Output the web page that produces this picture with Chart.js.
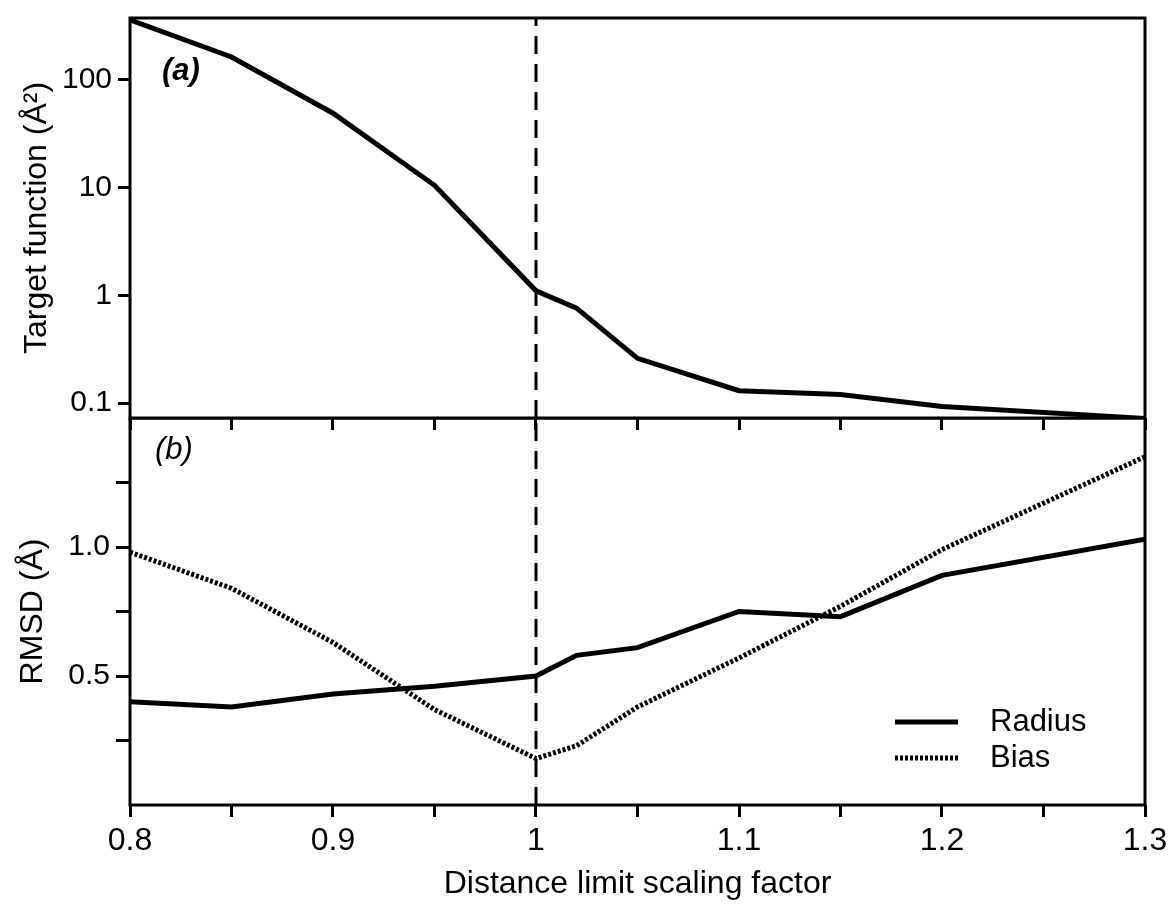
<!DOCTYPE html>
<html>
<head>
<meta charset="utf-8">
<script src="https://cdn.jsdelivr.net/npm/chart.js@4.4.1/dist/chart.umd.min.js"></script>
<style>
  body { margin: 0; background: #fff; }
  #wrap { position: relative; width: 1168px; height: 913px; }
  #topChart { position: absolute; left: 0; top: 0; }
  #bottomChart { position: absolute; left: 0; top: 418px; }
</style>
</head>
<body>
<div id="wrap">
  <canvas id="topChart" width="1168" height="436"></canvas>
  <canvas id="bottomChart" width="1168" height="495"></canvas>
</div>
<script>
// values
const scaleFactor = [0.8, 0.85, 0.9, 0.95, 1.0, 1.02, 1.05, 1.1, 1.15, 1.2, 1.3];
const targetFunction = [360, 163, 49, 10.5, 1.1, 0.76, 0.26, 0.13, 0.12, 0.093, 0.072];
const radiusRmsd = [0.40, 0.38, 0.43, 0.46, 0.50, 0.58, 0.61, 0.75, 0.73, 0.89, 1.03];
const biasRmsd = [0.98, 0.84, 0.63, 0.37, 0.18, 0.23, 0.38, 0.57, 0.77, 0.99, 1.35];
const xTickLabels = ['0.8', '0.9', '1', '1.1', '1.2', '1.3'];
const targetTicks = [0.1, 1, 10, 100];
const rmsdTicks = [0.25, 0.5, 0.75, 1.0, 1.25];
const rmsdTickLabels = { 0.5: '0.5', 1: '1.0' };
const markerX = 1.0;

const FONT = "'Liberation Sans', Arial, sans-serif";
const X_MIN = 0.8, X_MAX = 1.3;
const TOP_MIN = 0.0726, TOP_MAX = 375;
const BOT_MIN = 0, BOT_MAX = 1.5;

const toPoints = (ys) => scaleFactor.map((x, i) => ({ x: x, y: ys[i] }));

function xLabel(v) {
  const k = Math.round((v - X_MIN) * 100);
  if (k % 10 !== 0) return '';
  return xTickLabels[k / 10] || '';
}

// keep the plot boxes where they are, no extra room for edge labels
function noPad(s) {
  s.paddingTop = 0;
  s.paddingBottom = 0;
  s.paddingLeft = 0;
  s.paddingRight = 0;
}

// box round the plot area
const framePlugin = {
  id: 'frame',
  afterDraw(chart) {
    const { ctx, chartArea: a } = chart;
    ctx.save();
    ctx.strokeStyle = '#000';
    ctx.lineWidth = 3;
    ctx.strokeRect(a.left, a.top, a.right - a.left, a.bottom - a.top);
    ctx.restore();
  }
};

// (a) / (b) panel tags
const panelTagPlugin = {
  id: 'panelTag',
  afterDraw(chart, args, opts) {
    const { ctx, chartArea: a } = chart;
    ctx.save();
    ctx.fillStyle = '#000';
    ctx.font = opts.font;
    ctx.textBaseline = 'middle';
    ctx.fillText(opts.text, a.left + opts.dx, a.top + opts.dy);
    ctx.restore();
  }
};

// legend in the lower right of panel (b)
const insideLegend = {
  id: 'insideLegend',
  afterDraw(chart) {
    const { ctx, chartArea: a } = chart;
    const items = chart.data.datasets.filter(d => d.label);
    ctx.save();
    items.forEach((ds, i) => {
      const y = a.bottom - 83 + i * 36;
      ctx.strokeStyle = ds.borderColor;
      ctx.lineWidth = ds.borderWidth;
      ctx.setLineDash(ds.borderDash || []);
      ctx.beginPath();
      ctx.moveTo(a.left + 765, y);
      ctx.lineTo(a.left + 828, y);
      ctx.stroke();
      ctx.setLineDash([]);
      ctx.fillStyle = '#000';
      ctx.font = '31px ' + FONT;
      ctx.textBaseline = 'middle';
      ctx.fillText(ds.label, a.left + 860, y);
    });
    ctx.restore();
  }
};

const xGrid = {
  display: true,
  drawOnChartArea: false,
  drawTicks: true,
  tickLength: 12,
  tickWidth: 3,
  tickColor: '#000'
};

new Chart(document.getElementById('topChart'), {
  type: 'line',
  data: {
    datasets: [
      {
        data: toPoints(targetFunction),
        borderColor: '#000',
        borderWidth: 5,
        pointRadius: 0,
        tension: 0
      },
      {
        data: [{ x: markerX, y: TOP_MIN }, { x: markerX, y: TOP_MAX }],
        borderColor: '#000',
        borderWidth: 3,
        borderDash: [18, 10],
        pointRadius: 0
      }
    ]
  },
  options: {
    responsive: false,
    animation: false,
    layout: { padding: { top: 18, right: 23, left: 0, bottom: 0 } },
    plugins: {
      legend: { display: false },
      tooltip: { enabled: false },
      panelTag: { text: '(a)', font: 'italic bold 31px ' + FONT, dx: 32, dy: 53 }
    },
    scales: {
      x: {
        type: 'linear',
        min: X_MIN,
        max: X_MAX,
        ticks: { stepSize: 0.05, callback: () => '' },
        grid: xGrid,
        border: { display: false },
        afterFit: (s) => { s.height = 18; noPad(s); }
      },
      y: {
        type: 'logarithmic',
        min: TOP_MIN,
        max: TOP_MAX,
        afterBuildTicks: (s) => { s.ticks = targetTicks.map(v => ({ value: v })); },
        ticks: {
          color: '#000',
          font: { family: FONT, size: 30 },
          padding: 6,
          callback: (v) => String(v)
        },
        grid: { display: true, drawOnChartArea: false, tickLength: 12, tickWidth: 3, tickColor: '#000' },
        border: { display: false },
        title: {
          display: true,
          text: 'Target function (Å²)',
          color: '#000',
          font: { family: FONT, size: 32 },
          padding: { top: 18, bottom: 0 }
        },
        afterFit: (s) => { s.width = 130; noPad(s); }
      }
    }
  },
  plugins: [framePlugin, panelTagPlugin]
});

new Chart(document.getElementById('bottomChart'), {
  type: 'line',
  data: {
    datasets: [
      {
        label: 'Radius',
        data: toPoints(radiusRmsd),
        borderColor: '#000',
        borderWidth: 5,
        pointRadius: 0,
        tension: 0
      },
      {
        label: 'Bias',
        data: toPoints(biasRmsd),
        borderColor: '#000',
        borderWidth: 5,
        borderDash: [3, 2],
        pointRadius: 0,
        tension: 0
      },
      {
        data: [{ x: markerX, y: BOT_MIN }, { x: markerX, y: BOT_MAX }],
        borderColor: '#000',
        borderWidth: 3,
        borderDash: [18, 10],
        pointRadius: 0
      }
    ]
  },
  options: {
    responsive: false,
    animation: false,
    layout: { padding: { top: 0, right: 23, left: 0, bottom: 0 } },
    plugins: {
      legend: { display: false },
      tooltip: { enabled: false },
      panelTag: { text: '(b)', font: 'italic 31px ' + FONT, dx: 25, dy: 32 }
    },
    scales: {
      x: {
        type: 'linear',
        min: X_MIN,
        max: X_MAX,
        ticks: {
          stepSize: 0.05,
          autoSkip: false,
          maxRotation: 0,
          color: '#000',
          font: { family: FONT, size: 32 },
          padding: 5,
          callback: (v) => xLabel(v)
        },
        grid: xGrid,
        border: { display: false },
        title: {
          display: true,
          text: 'Distance limit scaling factor',
          color: '#000',
          font: { family: FONT, size: 32 },
          padding: { top: 0, bottom: 10 }
        },
        afterFit: (s) => { s.height = 108; noPad(s); }
      },
      y: {
        type: 'linear',
        min: BOT_MIN,
        max: BOT_MAX,
        afterBuildTicks: (s) => { s.ticks = rmsdTicks.map(v => ({ value: v })); },
        ticks: {
          color: '#000',
          font: { family: FONT, size: 30 },
          padding: 6,
          callback: (v) => rmsdTickLabels[v] || ''
        },
        grid: { display: true, drawOnChartArea: false, tickLength: 14, tickWidth: 3, tickColor: '#000' },
        border: { display: false },
        title: {
          display: true,
          text: 'RMSD (Å)',
          color: '#000',
          font: { family: FONT, size: 32 },
          padding: { top: 14, bottom: 0 }
        },
        afterFit: (s) => { s.width = 130; noPad(s); }
      }
    }
  },
  plugins: [framePlugin, panelTagPlugin, insideLegend]
});
</script>
</body>
</html>
